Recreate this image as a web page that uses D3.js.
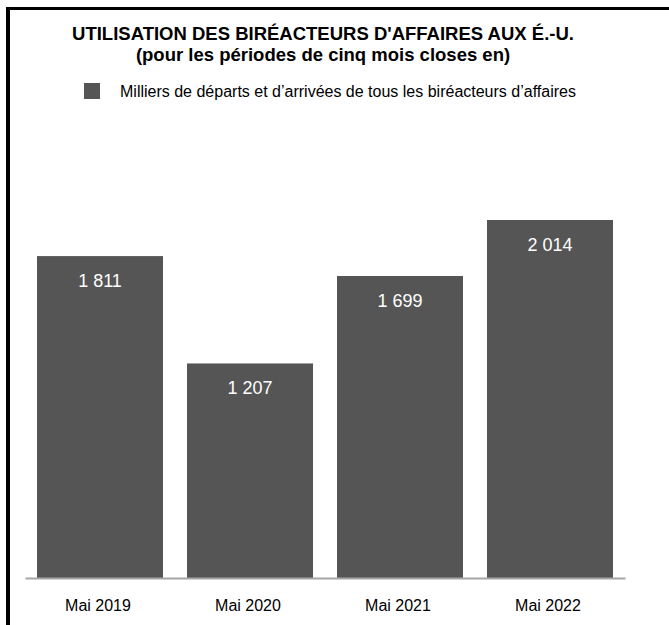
<!DOCTYPE html>
<html><head><meta charset="utf-8">
<script src="https://cdn.jsdelivr.net/npm/d3@7"></script>
<style>body{margin:0;background:#fff}svg{display:block;font-family:"Liberation Sans",Arial,sans-serif}</style>
</head><body>
<script>
const categories = ["Mai 2019", "Mai 2020", "Mai 2021", "Mai 2022"];
const values = [1811, 1207, 1699, 2014];
const valueLabels = ["1 811", "1 207", "1 699", "2 014"];
const titleLines = ["UTILISATION DES BIRÉACTEURS D'AFFAIRES AUX É.-U.", "(pour les périodes de cinq mois closes en)"];
const legendLabel = "Milliers de départs et d’arrivées de tous les biréacteurs d’affaires";

const W = 669, H = 625;
const svg = d3.select("body").append("svg").attr("width", W).attr("height", H);

// frame
svg.append("rect").attr("x", 6).attr("y", 7).attr("width", W).attr("height", 3).attr("fill", "#000");
svg.append("rect").attr("x", 6).attr("y", 7).attr("width", 4).attr("height", H).attr("fill", "#000");

const x = d3.scaleBand().domain(categories).range([25, 625]).paddingInner(0.16).paddingOuter(0.08);
const y = d3.scaleLinear().domain([0, 2014]).range([578, 220]);

svg.selectAll("text.title").data(titleLines).join("text")
  .attr("x", 323).attr("y", (d, i) => 39.5 + i * 21)
  .attr("text-anchor", "middle").attr("font-weight", "bold").attr("font-size", 18.5)
  .attr("fill", "#000").text(d => d);

svg.append("rect").attr("x", 84).attr("y", 83).attr("width", 16).attr("height", 16).attr("fill", "#555555");
svg.append("text").attr("x", 120).attr("y", 97).attr("font-size", 16).attr("fill", "#000").text(legendLabel);

svg.selectAll("rect.bar").data(values).join("rect").attr("class", "bar")
  .attr("x", (d, i) => x(categories[i])).attr("width", x.bandwidth())
  .attr("y", d => y(d)).attr("height", d => y(0) - y(d)).attr("fill", "#555555");

svg.selectAll("text.val").data(values).join("text").attr("class", "val")
  .attr("x", (d, i) => x(categories[i]) + x.bandwidth() / 2)
  .attr("y", d => y(d) + 31).attr("text-anchor", "middle")
  .attr("font-size", 18).attr("fill", "#fff").text((d, i) => valueLabels[i]);

const axis = svg.append("g").attr("transform", "translate(-2,578)")
  .call(d3.axisBottom(x).tickSize(0).tickPadding(22));
axis.select(".domain").attr("stroke", "#a6a6a6").attr("stroke-width", 2).attr("transform", "translate(2,0)");
axis.selectAll("text").attr("font-size", 16).attr("fill", "#000").attr("font-family", "Liberation Sans, Arial, sans-serif");
</script>
</body></html>
